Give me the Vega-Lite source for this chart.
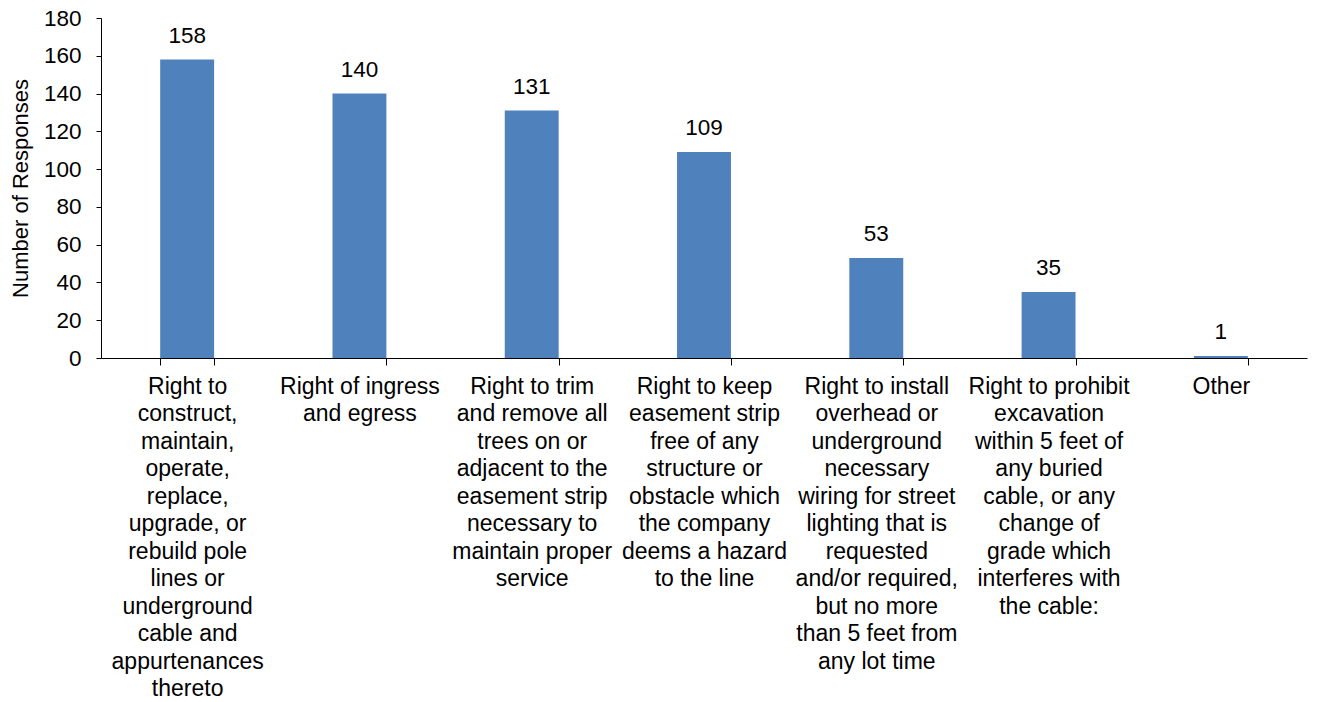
{
  "$schema": "https://vega.github.io/schema/vega-lite/v6.json",
  "width": 1206,
  "height": 340,
  "autosize": {"type": "none"},
  "padding": {"left": 101, "top": 18, "right": 10, "bottom": 344},
  "background": "white",
  "config": {
    "view": {"stroke": null},
    "font": "Liberation Sans",
    "axis": {"labelFont": "Liberation Sans", "titleFont": "Liberation Sans", "labelColor": "#000", "titleColor": "#000", "domainColor": "#000", "tickColor": "#000", "grid": false}
  },
  "data": {
    "values": [
      {"category": "Right to\nconstruct,\nmaintain,\noperate,\nreplace,\nupgrade, or\nrebuild pole\nlines or\nunderground\ncable and\nappurtenances\nthereto", "responses": 158},
      {"category": "Right of ingress\nand egress", "responses": 140},
      {"category": "Right to trim\nand remove all\ntrees on or\nadjacent to the\neasement strip\nnecessary to\nmaintain proper\nservice", "responses": 131},
      {"category": "Right to keep\neasement strip\nfree of any\nstructure or\nobstacle which\nthe company\ndeems a hazard\nto the line", "responses": 109},
      {"category": "Right to install\noverhead or\nunderground\nnecessary\nwiring for street\nlighting that is\nrequested\nand/or required,\nbut no more\nthan 5 feet from\nany lot time", "responses": 53},
      {"category": "Right to prohibit\nexcavation\nwithin 5 feet of\nany buried\ncable, or any\nchange of\ngrade which\ninterferes with\nthe cable:", "responses": 35},
      {"category": "Other", "responses": 1}
    ]
  },
  "encoding": {
    "x": {
      "field": "category",
      "type": "nominal",
      "sort": null,
      "scale": {"paddingInner": 0.687, "paddingOuter": 0.3435},
      "axis": {
        "title": null,
        "labelAngle": 0,
        "labelFontSize": 23,
        "labelLineHeight": 27.5,
        "labelLimit": 0,
        "labelPadding": 10,
        "tickSize": 7,
        "tickBand": "extent",
        "labelExpr": "split(datum.label, '\\n')",
        "labelBaseline": "top"
      }
    },
    "y": {
      "field": "responses",
      "type": "quantitative",
      "scale": {"domain": [0, 180]},
      "axis": {
        "title": "Number of Responses",
        "titleFontSize": 22,
        "titleFontWeight": "normal",
        "titlePadding": 11,
        "values": [0, 20, 40, 60, 80, 100, 120, 140, 160, 180],
        "labelFontSize": 22.5,
        "labelPadding": 15,
        "tickSize": 5
      }
    }
  },
  "layer": [
    {"mark": {"type": "bar", "color": "#4F81BD"}},
    {
      "mark": {"type": "text", "fontSize": 22.5, "baseline": "alphabetic", "dy": -17, "color": "#000"},
      "encoding": {"text": {"field": "responses", "type": "quantitative"}}
    }
  ]
}
